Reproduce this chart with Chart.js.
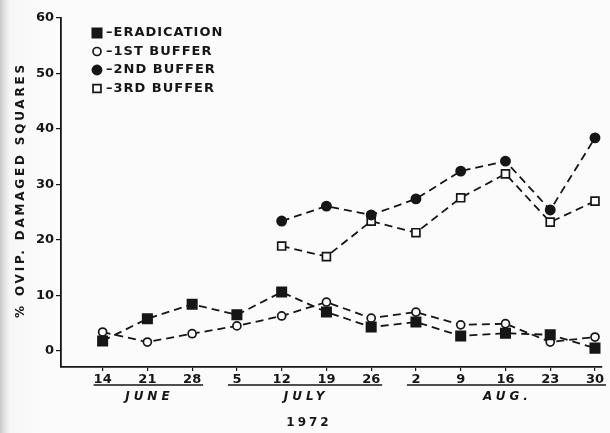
<!DOCTYPE html>
<html>
<head>
<meta charset="utf-8">
<script src="https://cdn.jsdelivr.net/npm/chart.js@4.4.1/dist/chart.umd.min.js"></script>
<style>
  html, body { margin: 0; padding: 0; background: #fbfbfb; }
  #wrap {
    position: relative; width: 610px; height: 433px;
    background: linear-gradient(to right, #c9c9c9 0px, #e4e4e4 5px, #f7f7f7 10px, #fbfbfb 40px);
  }
</style>
</head>
<body>
<div id="wrap"><canvas id="chart"></canvas></div>
<script>
// sampling dates, 1972
const dates = ['14', '21', '28', '5', '12', '19', '26', '2', '9', '16', '23', '30'];
const months = ['JUNE', 'JULY', 'AUG.'];
const monthFirst = [0, 3, 7];
const monthLast = [2, 6, 11];
const yTicks = [0, 10, 20, 30, 40, 50, 60];

const seriesNames = ['ERADICATION', '1ST BUFFER', '2ND BUFFER', '3RD BUFFER'];
const eradication = [1.8, 5.8, 8.4, 6.5, 10.6, 7.0, 4.3, 5.2, 2.7, 3.2, 2.9, 0.5];
const buffer1 = [3.4, 1.6, 3.1, 4.5, 6.3, 8.8, 5.9, 7.0, 4.7, 4.9, 1.6, 2.5];
const buffer2 = [null, null, null, null, 23.4, 26.1, 24.5, 27.4, 32.4, 34.2, 25.4, 38.4];
const buffer3 = [null, null, null, null, 18.9, 17.0, 23.4, 21.3, 27.6, 31.9, 23.2, 27.0];

const INK = '#161616';
const FONT = '"DejaVu Sans", sans-serif';

function toPoints(values) {
    return values.map((v, i) => ({ x: i, y: v }));
}

function series(label, values, style, filled, radius) {
    return {
        label: label,
        data: toPoints(values),
        borderColor: INK,
        borderWidth: 1.8,
        borderDash: [8, 5],
        pointStyle: style,
        pointRadius: radius,
        pointHoverRadius: radius,
        pointBackgroundColor: filled ? INK : '#fbfbfb',
        pointBorderColor: INK,
        pointBorderWidth: 1.7,
        fill: false,
        tension: 0
    };
}

// draws a marker like the chart's own points (used for the legend)
function drawMarker(ctx, style, filled, x, y, r) {
    ctx.beginPath();
    if (style === 'rect') {
        const s = r * Math.SQRT1_2;
        ctx.rect(x - s, y - s, 2 * s, 2 * s);
    } else {
        ctx.arc(x, y, r, 0, Math.PI * 2);
    }
    ctx.fillStyle = filled ? INK : '#fbfbfb';
    ctx.fill();
    ctx.lineWidth = 1.7;
    ctx.strokeStyle = INK;
    ctx.stroke();
}

const annotations = {
    id: 'annotations',
    afterDraw(chart) {
        const ctx = chart.ctx;
        const xs = chart.scales.x;
        ctx.save();
        ctx.fillStyle = INK;
        ctx.strokeStyle = INK;

        // y axis title
        ctx.save();
        ctx.translate(21, 190);
        ctx.rotate(-Math.PI / 2);
        ctx.font = 'bold 12px ' + FONT;
        ctx.letterSpacing = '2.8px';
        ctx.textAlign = 'center';
        ctx.textBaseline = 'middle';
        ctx.fillText('% OVIP. DAMAGED SQUARES', 0, 0);
        ctx.restore();

        // legend
        ctx.font = 'bold 13px ' + FONT;
        ctx.letterSpacing = '1px';
        ctx.textAlign = 'left';
        ctx.textBaseline = 'middle';
        chart.data.datasets.forEach((ds, i) => {
            const y = 33 + i * 18.5;
            drawMarker(ctx, ds.pointStyle, ds.pointBackgroundColor === INK, 97, y, ds.pointRadius);
            ctx.fillStyle = INK;
            ctx.fillText('\u2013' + seriesNames[i], 106, y);
        });

        // month groups under the date labels
        ctx.lineWidth = 1.7;
        ctx.font = 'italic bold 12px ' + FONT;
        ctx.letterSpacing = '4px';
        ctx.textAlign = 'center';
        months.forEach((m, i) => {
            const x0 = xs.getPixelForValue(monthFirst[i]) - 9;
            const x1 = xs.getPixelForValue(monthLast[i]) + 11;
            ctx.beginPath();
            ctx.moveTo(x0, 385);
            ctx.lineTo(x1, 385);
            ctx.stroke();
            const mid = (xs.getPixelForValue(monthFirst[i]) + xs.getPixelForValue(monthLast[i])) / 2;
            ctx.fillText(m, mid + 2, 397);
        });

        // year
        ctx.font = 'bold 12px ' + FONT;
        ctx.letterSpacing = '3px';
        ctx.fillText('1972', 309, 423);
        ctx.restore();
    }
};

new Chart(document.getElementById('chart'), {
    type: 'line',
    data: {
        datasets: [
            series(seriesNames[0], eradication, 'rect', true, 6.6),
            series(seriesNames[1], buffer1, 'circle', false, 4),
            series(seriesNames[2], buffer2, 'circle', true, 4.6),
            series(seriesNames[3], buffer3, 'rect', false, 5.6)
        ]
    },
    options: {
        responsive: true,
        maintainAspectRatio: false,
        animation: false,
        layout: {
            padding: { top: 18, right: 5, left: 0, bottom: 0 }
        },
        plugins: {
            legend: { display: false },
            tooltip: { enabled: false }
        },
        scales: {
            x: {
                type: 'linear',
                min: -0.93,
                max: 11.15,
                afterBuildTicks: function (scale) {
                    scale.ticks = dates.map((d, i) => ({ value: i }));
                },
                afterFit: function (scale) {
                    scale.height = 66;
                },
                grid: {
                    drawOnChartArea: false,
                    drawTicks: true,
                    tickLength: 4,
                    color: INK,
                    lineWidth: 1.2
                },
                border: { display: true, color: INK, width: 1.8 },
                ticks: {
                    color: INK,
                    padding: 1,
                    maxRotation: 0,
                    autoSkip: false,
                    font: { family: FONT, size: 13, weight: 'bold' },
                    callback: function (value) {
                        return dates[value];
                    }
                }
            },
            y: {
                min: -2.9,
                max: 60,
                afterBuildTicks: function (scale) {
                    scale.ticks = yTicks.map(v => ({ value: v }));
                },
                afterFit: function (scale) {
                    scale.width = 61;
                },
                grid: {
                    drawOnChartArea: false,
                    drawTicks: true,
                    tickLength: 5,
                    color: INK,
                    lineWidth: 1.2
                },
                border: { display: true, color: INK, width: 1.8 },
                ticks: {
                    color: INK,
                    padding: 2,
                    font: { family: FONT, size: 13, weight: 'bold' }
                }
            }
        }
    },
    plugins: [annotations]
});
</script>
</body>
</html>
